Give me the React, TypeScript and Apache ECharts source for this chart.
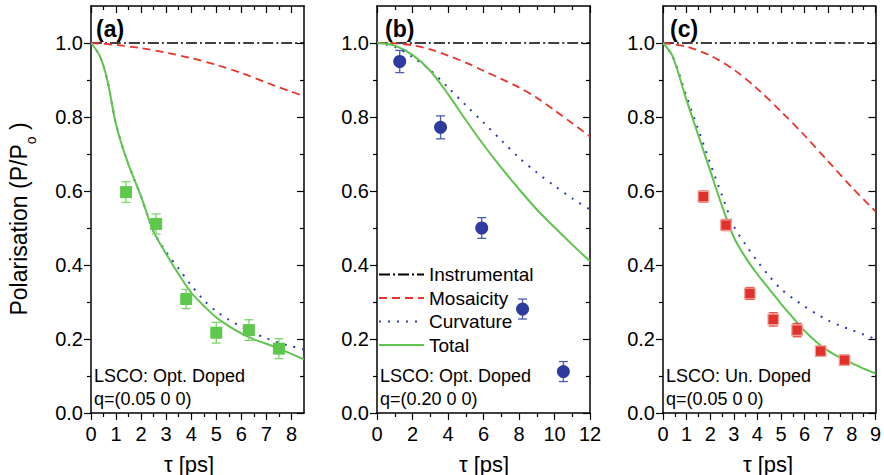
import React, { useEffect, useRef } from "react";
import * as echarts from "echarts";

const FONT = '"Liberation Sans", Arial, Helvetica, sans-serif';

// tick values
const xTicksA = [0, 1, 2, 3, 4, 5, 6, 7, 8];
const xTicksB = [0, 2, 4, 6, 8, 10, 12];
const xTicksC = [0, 1, 2, 3, 4, 5, 6, 7, 8, 9];
const yTicks = [0, 0.2, 0.4, 0.6, 0.8, 1.0];

// panel (a) LSCO opt. doped q=(0.05 0 0)
const aTau = [1.4, 2.6, 3.8, 5.0, 6.3, 7.5];
const aPol = [0.597, 0.511, 0.308, 0.217, 0.224, 0.174];
const aErr = [0.028, 0.027, 0.026, 0.028, 0.028, 0.027];
const aInstr = [[0, 1], [8.5, 1]];
const aMosaic = [[0, 1], [1, 0.995], [2, 0.986], [3, 0.974], [4, 0.959], [5, 0.941], [6, 0.919], [7, 0.893], [8, 0.868], [8.5, 0.857]];
const aCurv = [[0, 1], [0.35, 0.965], [0.65, 0.9], [1, 0.78], [1.45, 0.68], [2, 0.585], [2.5, 0.49], [3, 0.435], [3.5, 0.39], [4, 0.345], [4.5, 0.305], [5, 0.275], [5.5, 0.252], [6, 0.233], [6.5, 0.216], [7, 0.202], [7.5, 0.19], [8, 0.18], [8.5, 0.172]];
const aTotal = [[0, 1], [0.35, 0.965], [0.65, 0.9], [1, 0.78], [1.45, 0.68], [2, 0.585], [2.5, 0.49], [3, 0.43], [3.5, 0.375], [4, 0.325], [4.5, 0.29], [5, 0.258], [5.5, 0.235], [6, 0.215], [6.5, 0.199], [7, 0.187], [7.5, 0.174], [8, 0.16], [8.5, 0.145]];

// panel (b) LSCO opt. doped q=(0.20 0 0)
const bTau = [1.28, 3.58, 5.9, 8.2, 10.5];
const bPol = [0.95, 0.772, 0.5, 0.281, 0.112];
const bErr = [0.03, 0.031, 0.028, 0.027, 0.027];
const bInstr = [[0, 1], [12, 1]];
const bMosaic = [[0, 1], [1, 0.999], [2, 0.994], [3, 0.983], [4, 0.966], [5, 0.947], [6, 0.925], [7, 0.903], [8, 0.88], [9, 0.852], [10, 0.818], [11, 0.783], [12, 0.747]];
const bCurv = [[0, 1], [1, 0.99], [2, 0.962], [3, 0.927], [4, 0.88], [5, 0.832], [6, 0.785], [7, 0.737], [8, 0.69], [9, 0.65], [10, 0.614], [11, 0.58], [12, 0.55]];
const bTotal = [[0, 1], [1, 0.993], [2, 0.968], [3, 0.925], [4, 0.862], [5, 0.792], [6, 0.725], [7, 0.663], [8, 0.605], [9, 0.55], [10, 0.502], [11, 0.455], [12, 0.41]];

// panel (c) LSCO un. doped q=(0.05 0 0)
const cTau = [1.71, 2.67, 3.68, 4.67, 5.68, 6.68, 7.69];
const cPol = [0.585, 0.508, 0.323, 0.253, 0.224, 0.167, 0.143];
const cErr = [0.015, 0.015, 0.016, 0.018, 0.018, 0.013, 0.013];
const cInstr = [[0, 1], [9, 1]];
const cMosaic = [[0, 1], [1, 0.99], [2, 0.966], [3, 0.928], [4, 0.876], [5, 0.815], [6, 0.75], [7, 0.68], [8, 0.61], [9, 0.545]];
const cCurv = [[0, 1], [0.4, 0.965], [1, 0.855], [1.5, 0.765], [2, 0.675], [2.5, 0.588], [3, 0.505], [3.5, 0.455], [4, 0.41], [4.5, 0.37], [5, 0.335], [5.5, 0.31], [6, 0.288], [6.5, 0.268], [7, 0.25], [7.5, 0.236], [8, 0.224], [8.5, 0.212], [9, 0.2]];
const cTotal = [[0, 1], [0.4, 0.965], [1, 0.845], [1.5, 0.75], [2, 0.655], [2.5, 0.56], [3, 0.475], [3.5, 0.42], [4, 0.375], [4.5, 0.335], [5, 0.295], [5.5, 0.258], [6, 0.222], [6.5, 0.192], [7, 0.168], [7.5, 0.15], [8, 0.135], [8.5, 0.12], [9, 0.107]];

const legendNames = ["Instrumental", "Mosaicity", "Curvature", "Total"];

const C_BLACK = "#000000";
const C_RED = "#e8342a";
const C_BLUE = "#2c3fb0";
const C_GREEN = "#5ec44c";

export default function App() {
  const ref = useRef<HTMLDivElement>(null);

  useEffect(() => {
    if (!ref.current) return;
    const chart = echarts.init(ref.current, null, { renderer: "svg" });

    const grids = [
      { left: 91, top: 6, width: 213, height: 407 },
      { left: 377, top: 6, width: 213, height: 407 },
      { left: 663, top: 6, width: 213, height: 407 },
    ];
    const xMax = [8.5, 12, 9];
    const xInt = [1, 2, 1];
    const xTicks = [xTicksA, xTicksB, xTicksC];

    const axisLine = { show: true, onZero: false, lineStyle: { color: "#000", width: 1.5 } };
    const xAxes: any[] = [];
    const yAxes: any[] = [];
    for (let i = 0; i < 3; i++) {
      const base = {
        type: "value",
        gridIndex: i,
        min: 0,
        max: xMax[i],
        interval: xInt[i],
        splitLine: { show: false },
        axisLine,
        minorTick: { show: true, splitNumber: 2, length: 4, lineStyle: { color: "#000", width: 1.2 } },
      };
      xAxes.push({
        ...base,
        position: "bottom",
        axisTick: { show: true, inside: false, length: 7, customValues: xTicks[i], lineStyle: { color: "#000", width: 1.2 } },
        axisLabel: {
          show: true,
          customValues: xTicks[i],
          margin: 11,
          fontSize: 20,
          fontFamily: FONT,
          color: "#000",
          formatter: (v: number) => String(v),
        },
      });
      xAxes.push({
        ...base,
        position: "top",
        axisTick: { show: true, inside: true, length: 7, customValues: xTicks[i], lineStyle: { color: "#000", width: 1.2 } },
        axisLabel: { show: false },
      });
      const ybase = {
        type: "value",
        gridIndex: i,
        min: 0,
        max: 1.1,
        interval: 0.2,
        splitLine: { show: false },
        axisLine,
        minorTick: { show: true, splitNumber: 2, length: 4, lineStyle: { color: "#000", width: 1.2 } },
      };
      yAxes.push({
        ...ybase,
        position: "left",
        axisTick: { show: true, inside: false, length: 7, customValues: yTicks, lineStyle: { color: "#000", width: 1.2 } },
        axisLabel: {
          show: true,
          customValues: yTicks,
          margin: 8,
          fontSize: 20,
          fontFamily: FONT,
          color: "#000",
          formatter: (v: number) => v.toFixed(1),
        },
      });
      yAxes.push({
        ...ybase,
        position: "right",
        axisTick: { show: true, inside: true, length: 7, customValues: yTicks, lineStyle: { color: "#000", width: 1.2 } },
        axisLabel: { show: false },
      });
    }

    const lineSeries = (i: number, instr: number[][], mos: number[][], curv: number[][], tot: number[][]) => {
      const common = {
        type: "line",
        xAxisIndex: 2 * i,
        yAxisIndex: 2 * i,
        symbol: "none",
        showSymbol: false,
        smooth: 0.3,
        clip: true,
        silent: true,
      };
      return [
        { ...common, name: "Instrumental", data: instr, z: 3, lineStyle: { color: C_BLACK, width: 1.5, type: [11, 3, 2, 3] }, itemStyle: { color: C_BLACK } },
        { ...common, name: "Mosaicity", data: mos, z: 3, lineStyle: { color: C_RED, width: 1.8, type: [8, 5] }, itemStyle: { color: C_RED } },
        { ...common, name: "Curvature", data: curv, z: 3, lineStyle: { color: C_BLUE, width: 2, type: [2, 7] }, itemStyle: { color: C_BLUE } },
        { ...common, name: "Total", data: tot, z: 4, lineStyle: { color: C_GREEN, width: 2 }, itemStyle: { color: C_GREEN } },
      ];
    };

    const errorSeries = (i: number, tau: number[], pol: number[], err: number[], color: string) => ({
      type: "custom",
      xAxisIndex: 2 * i,
      yAxisIndex: 2 * i,
      z: 5,
      silent: true,
      data: tau.map((t, k) => [t, pol[k], err[k]]),
      renderItem: (params: any, api: any) => {
        const x = api.value(0);
        const y = api.value(1);
        const e = api.value(2);
        const top = api.coord([x, y + e]);
        const bot = api.coord([x, y - e]);
        const cx = top[0];
        const st = { stroke: color, lineWidth: 1.3 };
        return {
          type: "group",
          children: [
            { type: "line", shape: { x1: cx, y1: top[1], x2: cx, y2: bot[1] }, style: st },
            { type: "line", shape: { x1: cx - 4.5, y1: top[1], x2: cx + 4.5, y2: top[1] }, style: st },
            { type: "line", shape: { x1: cx - 4.5, y1: bot[1], x2: cx + 4.5, y2: bot[1] }, style: st },
          ],
        };
      },
    });

    const scatterSeries = (i: number, tau: number[], pol: number[], symbol: string, size: number, color: string, border?: string) => ({
      type: "scatter",
      xAxisIndex: 2 * i,
      yAxisIndex: 2 * i,
      z: 6,
      silent: true,
      symbol,
      symbolSize: size,
      data: tau.map((t, k) => [t, pol[k]]),
      itemStyle: { color, borderColor: border || color, borderWidth: border ? 1.2 : 0, opacity: 1 },
    });

    const textEl = (x: number, y: number, text: string, size: number, bold = false, align = "left") => ({
      type: "text",
      x,
      y,
      z: 20,
      silent: true,
      style: {
        text,
        fill: "#000",
        fontSize: size,
        fontFamily: FONT,
        fontWeight: bold ? "bold" : "normal",
        align,
        verticalAlign: "middle",
      },
    });

    const option: any = {
      animation: false,
      backgroundColor: "#ffffff",
      grid: grids,
      xAxis: xAxes,
      yAxis: yAxes,
      legend: {
        data: legendNames,
        orient: "vertical",
        left: 378,
        top: 265,
        padding: 0,
        itemWidth: 45,
        itemHeight: 14,
        itemGap: 4.5,
        selectedMode: false,
        itemStyle: { opacity: 0 },
        textStyle: { fontSize: 19, fontFamily: FONT, color: "#000", lineHeight: 19 },
      },
      series: [
        ...lineSeries(0, aInstr, aMosaic, aCurv, aTotal),
        ...lineSeries(1, bInstr, bMosaic, bCurv, bTotal),
        ...lineSeries(2, cInstr, cMosaic, cCurv, cTotal),
        errorSeries(0, aTau, aPol, aErr, "#7ed46c"),
        errorSeries(1, bTau, bPol, bErr, "#4a5ab8"),
        errorSeries(2, cTau, cPol, cErr, "#e8473c"),
        scatterSeries(0, aTau, aPol, "rect", 12, "#5dc84c"),
        scatterSeries(1, bTau, bPol, "circle", 13, "#2d3c9e"),
        scatterSeries(2, cTau, cPol, "rect", 10.5, "#e0322a", "#f3a097"),
      ],
      graphic: [
        textEl(96, 29, "(a)", 23, true),
        textEl(385, 29, "(b)", 23, true),
        textEl(670, 29, "(c)", 23, true),
        textEl(94, 376, "LSCO: Opt. Doped", 18),
        textEl(94, 399, "q=(0.05 0 0)", 18),
        textEl(380, 376, "LSCO: Opt. Doped", 18),
        textEl(380, 399, "q=(0.20 0 0)", 18),
        textEl(666, 376, "LSCO: Un. Doped", 18),
        textEl(666, 399, "q=(0.05 0 0)", 18),
        textEl(189, 464, "τ [ps]", 22, false, "center"),
        textEl(484, 464, "τ [ps]", 22, false, "center"),
        textEl(768, 464, "τ [ps]", 22, false, "center"),
        {
          type: "text",
          x: 19,
          y: 219,
          rotation: Math.PI / 2,
          z: 20,
          silent: true,
          style: {
            text: "{a|Polarisation (P/P}{s|o}{a| )}",
            align: "center",
            verticalAlign: "middle",
            fill: "#000",
            rich: {
              a: { fontSize: 23, fontFamily: FONT, fill: "#000", lineHeight: 38 },
              s: { fontSize: 14, fontFamily: FONT, fill: "#000", lineHeight: 14, verticalAlign: "bottom" },
            },
          },
        },
      ],
    };

    chart.setOption(option);
    return () => chart.dispose();
  }, []);

  return (
    <div
      ref={ref}
      style={{ position: "fixed", left: 0, top: 0, width: 884, height: 475, background: "#fff" }}
    />
  );
}
